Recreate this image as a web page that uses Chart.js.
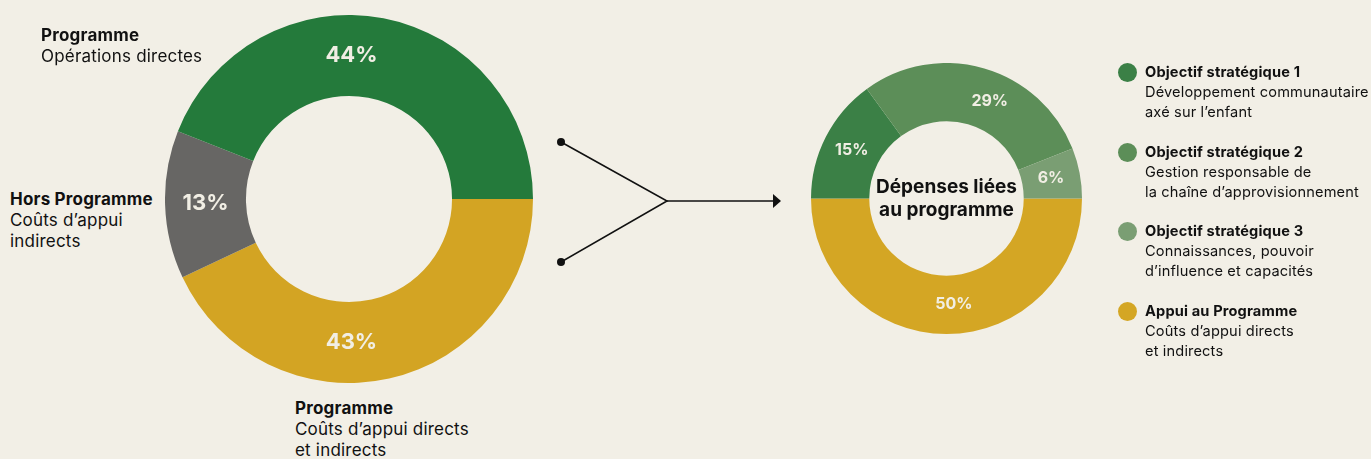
<!DOCTYPE html>
<html lang="fr">
<head>
<meta charset="utf-8">
<title>Dépenses liées au programme</title>
<script src="https://cdn.jsdelivr.net/npm/chart.js@4/dist/chart.umd.min.js"></script>
<style>
    html, body {
        margin: 0;
        padding: 0;
        width: 1371px;
        height: 459px;
        background: #f2efe6;
        font-family: Inter, "Open Sans", sans-serif;
        color: #111;
        overflow: hidden;
    }
    .page { position: relative; width: 1371px; height: 459px; }
    .chart-box { position: absolute; }
    .note { position: absolute; font-size: 17px; letter-spacing: 0.2px; line-height: 21px; white-space: nowrap; }
    .note b { font-weight: 700; }
    #legend { position: absolute; left: 1118px; top: 62px; }
    .legend-item { position: relative; padding-left: 27px; height: 79.5px; font-size: 14.6px; letter-spacing: 0.15px; line-height: 20px; white-space: nowrap; }
    .legend-item .dot { position: absolute; left: 0; top: 1px; width: 19px; height: 19px; border-radius: 50%; }
    #links { position: absolute; left: 0; top: 0; }
</style>
</head>
<body>
<div class="page">
    <div class="chart-box" style="left:165px; top:15px; width:368px; height:368px;">
        <canvas id="chart-total"></canvas>
    </div>
    <div class="chart-box" style="left:811px; top:63px; width:271px; height:271px;">
        <canvas id="chart-programme"></canvas>
    </div>

    <div class="note" style="left:41px; top:25px;"><b>Programme</b><br>Opérations directes</div>
    <div class="note" style="left:10px; top:189px;"><b>Hors Programme</b><br>Coûts d’appui<br>indirects</div>
    <div class="note" style="left:295px; top:398px;"><b>Programme</b><br>Coûts d’appui directs<br>et indirects</div>

    <svg id="links" width="1371" height="459">
        <circle cx="561" cy="142" r="4" fill="#111"></circle>
        <circle cx="561" cy="262" r="4" fill="#111"></circle>
        <polyline points="561,142 667,201 561,262" fill="none" stroke="#111" stroke-width="1.6"></polyline>
        <line x1="667" y1="201" x2="774" y2="201" stroke="#111" stroke-width="1.6"></line>
        <polygon points="773,194 781,201 773,208" fill="#111"></polygon>
    </svg>

    <div id="legend"></div>
</div>

<script>
// left chart : all spending (drawn clockwise from 3 o'clock)
var totalLabels = ["Programme – Coûts d’appui directs et indirects", "Hors Programme – Coûts d’appui indirects", "Programme – Opérations directes"];
var totalValues = [43, 13, 44];
var totalColors = ["#d3a423", "#676664", "#247a3b"];

// right chart : programme spending
var progLabels = ["Appui au Programme", "Objectif stratégique 1", "Objectif stratégique 2", "Objectif stratégique 3"];
var progDescriptions = ["Coûts d’appui directs<br>et indirects", "Développement communautaire<br>axé sur l’enfant", "Gestion responsable de<br>la chaîne d’approvisionnement", "Connaissances, pouvoir<br>d’influence et capacités"];
var progValues = [50, 15, 29, 6];
var progColors = ["#d4a624", "#3b8046", "#5c8e58", "#7a9e73"];
var legendOrder = [1, 2, 3, 0];

var centerTitle = ["Dépenses liées", "au programme"];

// writes "xx%" on each slice
var pctLabelsPlugin = {
    id: "pctLabels",
    afterDatasetsDraw: function (chart, args, opts) {
        var ctx = chart.ctx;
        var meta = chart.getDatasetMeta(0);
        var values = chart.data.datasets[0].data;
        ctx.save();
        ctx.fillStyle = opts.color || "#f1eee4";
        ctx.font = opts.font || "700 16px Inter";
        ctx.textAlign = "center";
        ctx.textBaseline = "middle";
        meta.data.forEach(function (arc, i) {
            var p = arc.getProps(["x", "y", "startAngle", "endAngle", "innerRadius", "outerRadius"], true);
            var angle = (p.startAngle + p.endAngle) / 2;
            if (opts.angles && opts.angles[i] != null) {
                // angle given in degrees from the top, clockwise
                angle = (opts.angles[i] - 90) * Math.PI / 180;
            }
            var r = (p.innerRadius + p.outerRadius) / 2;
            ctx.fillText(values[i] + "%", p.x + r * Math.cos(angle), p.y + r * Math.sin(angle));
        });
        ctx.restore();
    }
};

// title in the hole of the doughnut
var centerTextPlugin = {
    id: "centerText",
    afterDatasetsDraw: function (chart, args, opts) {
        if (!opts.lines) return;
        var arc = chart.getDatasetMeta(0).data[0];
        var ctx = chart.ctx;
        ctx.save();
        ctx.fillStyle = "#111";
        ctx.font = opts.font;
        ctx.textAlign = "center";
        ctx.textBaseline = "middle";
        var n = opts.lines.length;
        opts.lines.forEach(function (line, i) {
            ctx.fillText(line, arc.x, arc.y + (i - (n - 1) / 2) * opts.lineHeight);
        });
        ctx.restore();
    }
};

function makeDoughnut(id, labels, values, colors, cutout, labelOpts, centerOpts) {
    var ctx = document.getElementById(id).getContext("2d");
    return new Chart(ctx, {
        type: "doughnut",
        data: {
            labels: labels,
            datasets: [{
                data: values,
                backgroundColor: colors,
                borderWidth: 0
            }]
        },
        options: {
            responsive: true,
            maintainAspectRatio: false,
            animation: false,
            rotation: 90,
            cutout: cutout,
            layout: { padding: 0 },
            plugins: {
                legend: { display: false },
                tooltip: { enabled: false },
                pctLabels: labelOpts,
                centerText: centerOpts
            }
        },
        plugins: [pctLabelsPlugin, centerTextPlugin]
    });
}

makeDoughnut("chart-total", totalLabels, totalValues, totalColors, "56%",
    { font: "700 22px Inter", angles: [179, null, 1] }, {});

makeDoughnut("chart-programme", progLabels, progValues, progColors, "57%",
    { font: "700 16px Inter", angles: [176, null, 24, null] },
    { lines: centerTitle, font: "700 19px Inter", lineHeight: 23 });

// legend on the right
var legendHtml = "";
legendOrder.forEach(function (i) {
    legendHtml += '<div class="legend-item"><span class="dot" style="background:' + progColors[i] + '"></span>' +
        '<b>' + progLabels[i] + '</b><br>' + progDescriptions[i] + '</div>';
});
document.getElementById("legend").innerHTML = legendHtml;
</script>
</body>
</html>
